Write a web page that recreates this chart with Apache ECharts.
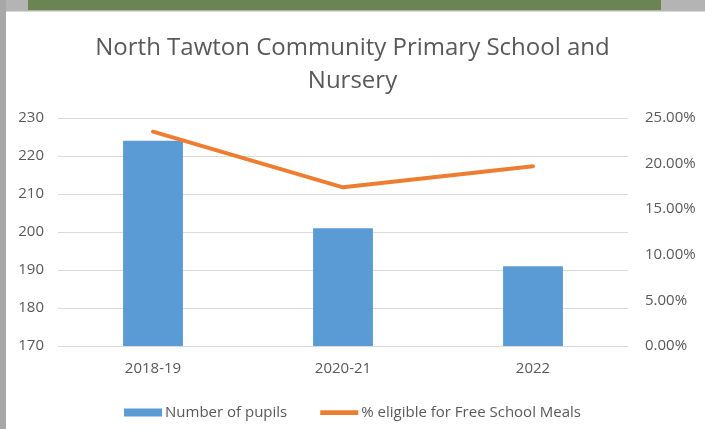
<!DOCTYPE html>
<html><head><meta charset="utf-8">
<script src="https://cdn.jsdelivr.net/npm/echarts@6/dist/echarts.min.js"></script>
<style>html,body{margin:0;padding:0;background:#fff}#c{width:705px;height:429px}</style>
</head><body><div id="c"></div>
<script>
const categories = ['2018-19', '2020-21', '2022'];
const pupils = [224, 201, 191];
const fsmPercent = [23.5, 17.4, 19.7];
const leftTicks = [170, 180, 190, 200, 210, 220, 230];
const rightTicks = [0, 5, 10, 15, 20, 25];

const font = '"Open Sans", "Liberation Sans", sans-serif';
const grey = '#595959';
const chart = echarts.init(document.getElementById('c'), null, {renderer: 'canvas'});
chart.setOption({
  backgroundColor: '#ffffff',
  animation: false,
  graphic: [
    {type: 'rect', shape: {x: 0, y: 0, width: 705, height: 11}, style: {fill: '#b4b4b4'}, z: -1},
    {type: 'rect', shape: {x: 28, y: 0, width: 633, height: 10}, style: {fill: '#6b8451'}, z: -1},
    {type: 'rect', shape: {x: 0, y: 0, width: 6, height: 429}, style: {fill: '#a8a8a8'}, z: -1},
    {type: 'rect', shape: {x: 6, y: 11, width: 699, height: 1}, style: {fill: '#d9d9d9'}, z: -1}
  ],
  title: {
    text: 'North Tawton Community Primary School and\nNursery',
    left: 'center', top: 27,
    textStyle: {fontFamily: font, fontSize: 24, fontWeight: 'normal', color: grey, lineHeight: 33}
  },
  legend: {
    top: 400, left: 'center', itemGap: 33, itemWidth: 38, itemHeight: 8,
    textStyle: {fontFamily: font, fontSize: 15, color: grey, padding: [0, 0, 0, -2]},
    data: [
      {name: 'Number of pupils', icon: 'rect'},
      {name: '% eligible for Free School Meals', icon: 'path://M0,2 L40,2 L40,7 L0,7 Z', itemStyle: {color: '#ed7d31'}}
    ]
  },
  grid: {left: 58, right: 77, top: 118, bottom: 83, containLabel: false},
  xAxis: {
    type: 'category', data: categories,
    axisLine: {lineStyle: {color: '#d9d9d9'}}, axisTick: {show: false},
    axisLabel: {fontFamily: font, fontSize: 15, color: grey, margin: 15}
  },
  yAxis: [
    {type: 'value', min: 170, max: 230, interval: 10,
     axisLine: {show: false}, axisTick: {show: false},
     splitLine: {lineStyle: {color: '#d9d9d9', width: 1}},
     axisLabel: {fontFamily: font, fontSize: 15, color: grey, margin: 14,
       formatter: v => v}},
    {type: 'value', min: 0, max: 25, interval: 5, position: 'right',
     axisLine: {show: false}, axisTick: {show: false}, splitLine: {show: false},
     axisLabel: {fontFamily: font, fontSize: 15, color: grey, margin: 17,
       formatter: v => v.toFixed(2) + '%'}}
  ],
  series: [
    {name: 'Number of pupils', type: 'bar', data: pupils, barWidth: '31.5%',
     itemStyle: {color: '#5b9bd5'}},
    {name: '% eligible for Free School Meals', type: 'line', yAxisIndex: 1, data: fsmPercent,
     symbol: 'none', lineStyle: {color: '#ed7d31', width: 4, cap: 'round'}, itemStyle: {color: '#ed7d31'}}
  ]
});
</script></body></html>
